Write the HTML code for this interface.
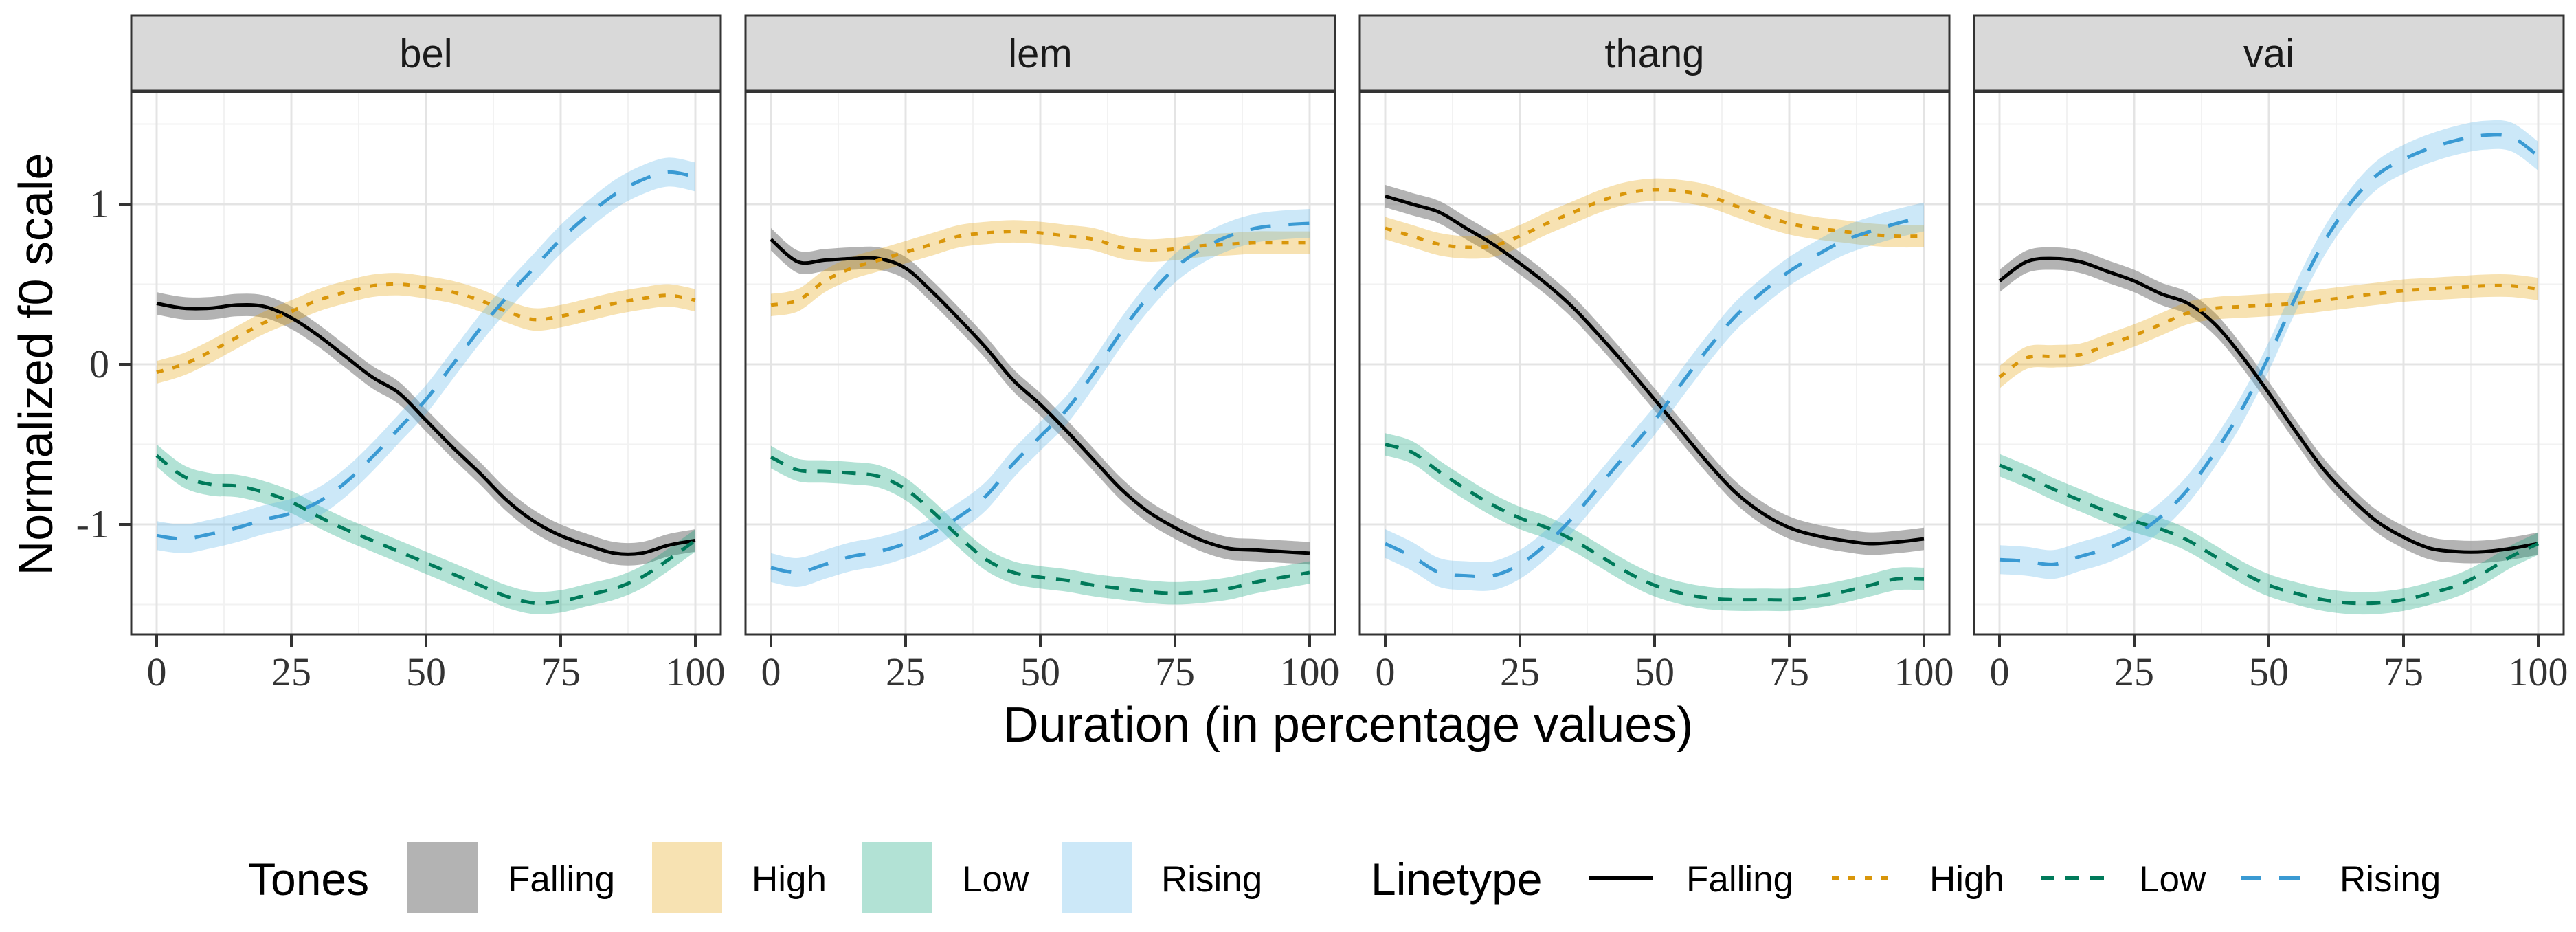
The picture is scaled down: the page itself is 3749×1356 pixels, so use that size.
<!DOCTYPE html>
<html><head><meta charset="utf-8">
<style>
html,body{margin:0;padding:0;background:#fff;}
svg{display:block;}
</style></head>
<body>
<svg id="chart" width="3749" height="1356" viewBox="0 0 3749 1356" xmlns="http://www.w3.org/2000/svg"></svg>
<script>
const panels = ["bel","lem","thang","vai"];
const xs = [0,5,10,15,20,25,30,35,40,45,50,55,60,65,70,75,80,85,90,95,100];
const xTicks = [0,25,50,75,100];
const yTicks = [-1,0,1];
const tones = ["Falling","High","Low","Rising"];
const belFalling = [0.38,0.35,0.35,0.37,0.36,0.29,0.18,0.05,-0.08,-0.18,-0.35,-0.52,-0.68,-0.85,-0.98,-1.07,-1.13,-1.18,-1.18,-1.13,-1.1];
const belHigh = [-0.05,0.0,0.08,0.17,0.26,0.33,0.40,0.45,0.49,0.50,0.48,0.45,0.40,0.33,0.28,0.30,0.34,0.38,0.41,0.43,0.40];
const belLow = [-0.57,-0.70,-0.75,-0.76,-0.80,-0.86,-0.95,-1.03,-1.10,-1.17,-1.24,-1.31,-1.38,-1.45,-1.49,-1.48,-1.44,-1.40,-1.33,-1.22,-1.1];
const belRising = [-1.07,-1.09,-1.06,-1.02,-0.97,-0.93,-0.86,-0.74,-0.58,-0.40,-0.22,0.0,0.22,0.42,0.60,0.78,0.93,1.06,1.15,1.20,1.17];
const lemFalling = [0.78,0.64,0.65,0.66,0.66,0.6,0.45,0.28,0.1,-0.10,-0.25,-0.42,-0.6,-0.78,-0.92,-1.02,-1.1,-1.15,-1.16,-1.17,-1.18];
const lemHigh = [0.37,0.40,0.52,0.6,0.65,0.70,0.75,0.80,0.82,0.83,0.82,0.80,0.78,0.73,0.71,0.72,0.74,0.75,0.76,0.76,0.76];
const lemLow = [-0.58,-0.66,-0.67,-0.68,-0.70,-0.78,-0.92,-1.08,-1.22,-1.30,-1.33,-1.35,-1.38,-1.40,-1.42,-1.43,-1.42,-1.40,-1.36,-1.33,-1.30];
const lemRising = [-1.27,-1.30,-1.25,-1.20,-1.17,-1.12,-1.05,-0.95,-0.82,-0.62,-0.45,-0.28,-0.05,0.20,0.42,0.60,0.72,0.80,0.85,0.87,0.88];
const thangFalling = [1.05,1.0,0.95,0.85,0.75,0.63,0.5,0.35,0.17,-0.02,-0.22,-0.42,-0.62,-0.8,-0.93,-1.02,-1.07,-1.10,-1.12,-1.11,-1.09];
const thangHigh = [0.85,0.80,0.75,0.73,0.74,0.80,0.88,0.95,1.02,1.07,1.09,1.08,1.05,0.99,0.93,0.88,0.85,0.83,0.81,0.80,0.80];
const thangLow = [-0.50,-0.55,-0.67,-0.78,-0.88,-0.96,-1.02,-1.10,-1.20,-1.30,-1.38,-1.43,-1.46,-1.47,-1.47,-1.47,-1.45,-1.42,-1.38,-1.34,-1.34];
const thangRising = [-1.12,-1.20,-1.30,-1.32,-1.32,-1.25,-1.12,-0.95,-0.75,-0.55,-0.35,-0.12,0.1,0.3,0.45,0.58,0.68,0.77,0.83,0.88,0.92];
const vaiFalling = [0.52,0.64,0.66,0.64,0.58,0.52,0.44,0.38,0.25,0.05,-0.18,-0.42,-0.65,-0.83,-0.98,-1.08,-1.15,-1.17,-1.17,-1.15,-1.12];
const vaiHigh = [-0.08,0.04,0.05,0.06,0.12,0.18,0.25,0.32,0.35,0.36,0.37,0.38,0.40,0.42,0.44,0.46,0.47,0.48,0.49,0.49,0.47];
const vaiLow = [-0.63,-0.70,-0.78,-0.85,-0.92,-0.98,-1.03,-1.10,-1.20,-1.30,-1.38,-1.43,-1.47,-1.49,-1.49,-1.47,-1.43,-1.38,-1.30,-1.20,-1.12];
const vaiRising = [-1.22,-1.23,-1.25,-1.20,-1.15,-1.07,-0.95,-0.78,-0.55,-0.28,0.05,0.42,0.75,1.00,1.18,1.28,1.35,1.40,1.43,1.42,1.30];
const ribbonHalf = [0.07,0.07,0.07,0.09];

const series = {
  bel:[belFalling,belHigh,belLow,belRising],
  lem:[lemFalling,lemHigh,lemLow,lemRising],
  thang:[thangFalling,thangHigh,thangLow,thangRising],
  vai:[vaiFalling,vaiHigh,vaiLow,vaiRising]
};
const fillCol = ["#999999","#E69F00","#009E73","#56B4E9"];
const fillOp = [0.75,0.3,0.3,0.3];
const lineCol = ["#000000","#D9960A","#007A5A","#3A9AD3"];
const dashes = ["", "10 14", "20 16", "30 26"];

const NS = "http://www.w3.org/2000/svg";
const svg = document.getElementById("chart");
function mk(tag, attrs, parent){
  const e = document.createElementNS(NS, tag);
  for (const k in attrs) e.setAttribute(k, attrs[k]);
  (parent||svg).appendChild(e);
  return e;
}
const panelLeft0 = 191, panelW = 858, panelPitch = 894;
const pTop = 134, pBot = 923, stripTop = 23, stripBot = 132;
const yPerUnit = 233, yZero = 530;
function yScale(v){ return yZero - v*yPerUnit; }
function xScaleFor(p){
  const l = panelLeft0 + p*panelPitch;
  return v => l + 37 + v*(panelW-74)/100;
}
function smoothPath(pts){
  let d = "M" + pts[0][0].toFixed(1) + "," + pts[0][1].toFixed(1);
  for (let i=0;i<pts.length-1;i++){
    const p0 = pts[Math.max(0,i-1)], p1 = pts[i], p2 = pts[i+1], p3 = pts[Math.min(pts.length-1,i+2)];
    const c1x = p1[0]+(p2[0]-p0[0])/6, c1y = p1[1]+(p2[1]-p0[1])/6;
    const c2x = p2[0]-(p3[0]-p1[0])/6, c2y = p2[1]-(p3[1]-p1[1])/6;
    d += " C"+c1x.toFixed(1)+","+c1y.toFixed(1)+" "+c2x.toFixed(1)+","+c2y.toFixed(1)+" "+p2[0].toFixed(1)+","+p2[1].toFixed(1);
  }
  return d;
}

panels.forEach((name, p) => {
  const left = panelLeft0 + p*panelPitch;
  const xS = xScaleFor(p);
  const g = mk("g", {});
  
  
  const strip = mk("rect", {x:left, y:stripTop, width:panelW, height:stripBot-stripTop, fill:"#d9d9d9", stroke:"#333", "stroke-width":3}, g);
  
  
  const st = mk("text", {x:left+panelW/2, y:98, "text-anchor":"middle", "font-family":"Liberation Sans, sans-serif", "font-size":58, fill:"#1a1a1a"}, g);
  st.textContent = name;
  
  
  mk("rect", {x:left, y:pTop, width:panelW, height:pBot-pTop, fill:"#fff"}, g);
  const clipId = "clip"+p;
  const cp = mk("clipPath", {id:clipId}, g);
  mk("rect", {x:left, y:pTop, width:panelW, height:pBot-pTop}, cp);
  const grid = mk("g", {}, g);
  
  
  [-1.5,-0.5,0.5,1.5].forEach(v => mk("line",{x1:left,x2:left+panelW,y1:yScale(v),y2:yScale(v),stroke:"#f2f2f2","stroke-width":2},grid));
  [12.5,37.5,62.5,87.5].forEach(v => mk("line",{x1:xS(v),x2:xS(v),y1:pTop,y2:pBot,stroke:"#f2f2f2","stroke-width":2},grid));
  yTicks.forEach(v => mk("line",{x1:left,x2:left+panelW,y1:yScale(v),y2:yScale(v),stroke:"#e4e4e4","stroke-width":3},grid));
  xTicks.forEach(v => mk("line",{x1:xS(v),x2:xS(v),y1:pTop,y2:pBot,stroke:"#e4e4e4","stroke-width":3},grid));
  const data = series[name];
  const marks = mk("g", {"clip-path":"url(#"+clipId+")"}, g);
  data.forEach((vals, t) => {
    const up = xs.map((x,i)=>[xS(x), yScale(vals[i]+ribbonHalf[t])]);
    const dn = xs.map((x,i)=>[xS(x), yScale(vals[i]-ribbonHalf[t])]).reverse();
    const d = smoothPath(up) + " L" + smoothPath(dn).slice(1) + " Z";
    const r = mk("path", {d:d, fill:fillCol[t], "fill-opacity":fillOp[t], stroke:"none"}, marks);
    
    
  });
  data.forEach((vals, t) => {
    const pts = xs.map((x,i)=>[xS(x), yScale(vals[i])]);
    const attrs = {d:smoothPath(pts), fill:"none", stroke:lineCol[t], "stroke-width":5};
    if (dashes[t]) attrs["stroke-dasharray"] = dashes[t];
    const l = mk("path", attrs, marks);
    
    
  });
  const border = mk("rect", {x:left, y:pTop, width:panelW, height:pBot-pTop, fill:"none", stroke:"#333", "stroke-width":3}, g);
  
  
  xTicks.forEach(v => {
    mk("line",{x1:xS(v),x2:xS(v),y1:pBot,y2:pBot+18,stroke:"#333","stroke-width":4},g);
    const t = mk("text",{x:xS(v),y:997,"text-anchor":"middle","font-family":"Liberation Serif, serif","font-size":58,fill:"#333"},g);
    t.textContent = v;
    
    
  });
  if (p === 0){
    yTicks.forEach(v => {
      mk("line",{x1:left-18,x2:left,y1:yScale(v),y2:yScale(v),stroke:"#333","stroke-width":4},g);
      const t = mk("text",{x:left-32,y:yScale(v)+19,"text-anchor":"end","font-family":"Liberation Serif, serif","font-size":58,fill:"#333"},g);
      t.textContent = v;
      
      
    });
  }
});

const xt = mk("text",{x:1962,y:1079,"text-anchor":"middle","font-family":"Liberation Sans, sans-serif","font-size":72,fill:"#000"});
xt.textContent = "Duration (in percentage values)";


const yt = mk("text",{x:0,y:0,transform:"translate(76,530) rotate(-90)","text-anchor":"middle","font-family":"Liberation Sans, sans-serif","font-size":70,fill:"#000"});
yt.textContent = "Normalized f0 scale";



const legY = 1278;
const lg1 = mk("g",{});


const t1 = mk("text",{x:361,y:legY+24,"font-family":"Liberation Sans, sans-serif","font-size":66,fill:"#000"},lg1);
t1.textContent = "Tones";
const boxX = [593,949,1254,1546];
const boxLabelX = [739,1094,1400,1690];
tones.forEach((tn,i)=>{
  const r = mk("rect",{x:boxX[i],y:1225,width:102,height:103,fill:fillCol[i],"fill-opacity":fillOp[i]},lg1);
  
  
  const tx = mk("text",{x:boxLabelX[i],y:legY+19,"font-family":"Liberation Sans, sans-serif","font-size":53,fill:"#000"},lg1);
  tx.textContent = tn;
  
  
});
const lg2 = mk("g",{});


const t2 = mk("text",{x:1995,y:legY+24,"font-family":"Liberation Sans, sans-serif","font-size":66,fill:"#000"},lg2);
t2.textContent = "Linetype";
const lineX = [2313,2666,2970,3261];
const lineLabelX = [2454,2808,3113,3405];
tones.forEach((tn,i)=>{
  const attrs = {x1:lineX[i],x2:lineX[i]+92,y1:legY,y2:legY,stroke:lineCol[i],"stroke-width":6};
  if (dashes[i]) attrs["stroke-dasharray"] = dashes[i];
  const l = mk("line",attrs,lg2);
  
  
  const tx = mk("text",{x:lineLabelX[i],y:legY+19,"font-family":"Liberation Sans, sans-serif","font-size":53,fill:"#000"},lg2);
  tx.textContent = tn;
  
  
});
</script>
</body></html>
